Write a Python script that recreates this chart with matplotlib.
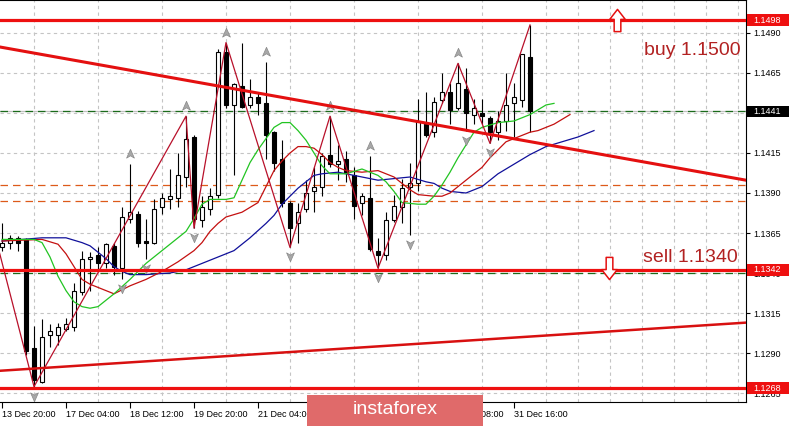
import matplotlib
matplotlib.use("Agg")
import matplotlib.pyplot as plt
import matplotlib.transforms as mtransforms
from matplotlib.path import Path
from matplotlib.patches import Rectangle
import numpy as np

# EURUSD H4 candles
opens = [1.1356, 1.1359, 1.1362, 1.1361, 1.1293, 1.1272, 1.1301, 1.1301, 1.1305, 1.1306,
         1.1328, 1.1349, 1.1351, 1.1346, 1.1357, 1.1343, 1.1374, 1.1377, 1.1360, 1.1359,
         1.1381, 1.1386, 1.1387, 1.1400, 1.1425, 1.1373, 1.1380, 1.1389, 1.1478, 1.1445,
         1.1457, 1.1445, 1.1450, 1.1446, 1.1428, 1.1411, 1.1384, 1.1371, 1.1380, 1.1391,
         1.1394, 1.1414, 1.1408, 1.1411, 1.1401, 1.1384, 1.1387, 1.1354, 1.1351, 1.1373,
         1.1381, 1.1394, 1.1396, 1.1434, 1.1428, 1.1448, 1.1453, 1.1443, 1.1455, 1.1439,
         1.1440, 1.1437, 1.1428, 1.1435, 1.1446, 1.1448, 1.1475]
highs = [1.1371, 1.1364, 1.1363, 1.1362, 1.1307, 1.1311, 1.1308, 1.1309, 1.1312, 1.1334,
         1.1354, 1.1353, 1.1356, 1.1359, 1.1359, 1.1381, 1.1408, 1.1379, 1.1374, 1.1386,
         1.1390, 1.1405, 1.1415, 1.1438, 1.1426, 1.1388, 1.1393, 1.1480, 1.1484, 1.1459,
         1.1484, 1.1461, 1.1453, 1.1472, 1.1429, 1.1423, 1.1385, 1.1384, 1.1398, 1.1406,
         1.1415, 1.1438, 1.1420, 1.1416, 1.1406, 1.1390, 1.1413, 1.1362, 1.1378, 1.1389,
         1.1399, 1.1409, 1.1449, 1.1453, 1.1450, 1.1465, 1.1459, 1.1471, 1.1468, 1.1449,
         1.1449, 1.1438, 1.1441, 1.1465, 1.1459, 1.1477, 1.1495]
lows = [1.1354, 1.1355, 1.1354, 1.1289, 1.1269, 1.1271, 1.1294, 1.1295, 1.1304, 1.1304,
        1.1326, 1.1329, 1.1342, 1.1343, 1.1339, 1.1336, 1.1371, 1.1356, 1.1349, 1.1358,
        1.1377, 1.1380, 1.1381, 1.1394, 1.1368, 1.1369, 1.1376, 1.1387, 1.1443, 1.1401,
        1.1443, 1.1443, 1.1439, 1.1411, 1.1404, 1.1381, 1.1356, 1.1359, 1.1378, 1.1378,
        1.1388, 1.1406, 1.1398, 1.1397, 1.1374, 1.1376, 1.1354, 1.1343, 1.1348, 1.1372,
        1.1371, 1.1364, 1.1391, 1.1425, 1.1425, 1.1446, 1.1433, 1.1442, 1.1429, 1.1433,
        1.1433, 1.1421, 1.1423, 1.1429, 1.1425, 1.1444, 1.1428]
closes = [1.1359, 1.1362, 1.1359, 1.1291, 1.1273, 1.1300, 1.1304, 1.1306, 1.1308, 1.1329,
          1.1349, 1.1350, 1.1346, 1.1358, 1.1344, 1.1375, 1.1378, 1.1359, 1.1359, 1.1380,
          1.1387, 1.1388, 1.1401, 1.1424, 1.1374, 1.1381, 1.1388, 1.1478, 1.1445, 1.1458,
          1.1444, 1.1450, 1.1446, 1.1426, 1.1409, 1.1384, 1.1368, 1.1378, 1.1390, 1.1394,
          1.1413, 1.1408, 1.1410, 1.1403, 1.1382, 1.1388, 1.1355, 1.1351, 1.1373, 1.1382,
          1.1393, 1.1396, 1.1435, 1.1426, 1.1447, 1.1453, 1.1442, 1.1459, 1.1440, 1.1443,
          1.1438, 1.1428, 1.1435, 1.1445, 1.1450, 1.1477, 1.1441]

# labels under the watermark are not visible in the screenshot
time_labels = ["13 Dec 20:00", "17 Dec 04:00", "18 Dec 12:00", "19 Dec 20:00", "21 Dec 04:00",
               "", "", "28 Dec 08:00", "31 Dec 16:00"]
time_label_idx = [0, 8, 16, 24, 32, 40, 48, 56, 64]

# alligator lines (shifted forward past the last bar)
lips_idx = [0, 4, 5, 6, 7, 8, 9, 10, 11, 12, 14, 16, 18, 20, 22, 23, 24, 25, 26, 28,
            29, 30, 31, 32, 33, 34, 35, 36, 37, 38, 39, 40, 41, 43, 45, 47, 48, 49, 50, 52,
            53, 54, 55, 56, 57, 58, 59, 60, 62, 64, 65, 66, 67, 68, 69]
lips = [1.1361, 1.1361, 1.1359, 1.1350, 1.1338, 1.1329, 1.1322, 1.1319, 1.1318, 1.1319,
        1.1327, 1.1336, 1.1346, 1.1354, 1.1362, 1.1366, 1.1374, 1.1383, 1.1386, 1.1386,
        1.1387, 1.1398, 1.1409, 1.1417, 1.1424, 1.1431, 1.1434, 1.1434, 1.1429, 1.1423,
        1.1415, 1.1407, 1.1402, 1.1402, 1.1405, 1.1401, 1.1397, 1.1391, 1.1384, 1.1383,
        1.1383, 1.1388, 1.1395, 1.1403, 1.1412, 1.1420, 1.1428, 1.1431, 1.1434, 1.1435,
        1.1437, 1.1439, 1.1442, 1.1445, 1.1446]
teeth_idx = [0, 5, 7, 8, 9, 10, 11, 12, 14, 16, 18, 20, 22, 24, 25, 26, 27, 28, 30, 31,
             32, 33, 34, 35, 36, 37, 38, 39, 40, 41, 42, 43, 45, 47, 49, 50, 51, 52, 54, 55,
             56, 57, 58, 59, 60, 61, 62, 63, 64, 65, 66, 67, 68, 69, 70, 71]
teeth = [1.1360, 1.1361, 1.1358, 1.1352, 1.1344, 1.1336, 1.1333, 1.1331, 1.1327, 1.1332,
         1.1336, 1.1341, 1.1347, 1.1354, 1.1359, 1.1366, 1.1371, 1.1375, 1.1378, 1.1381,
         1.1384, 1.1394, 1.1404, 1.1410, 1.1415, 1.1419, 1.1419, 1.1418, 1.1414, 1.1409,
         1.1406, 1.1404, 1.1403, 1.1404, 1.1400, 1.1396, 1.1392, 1.1389, 1.1388, 1.1388,
         1.1390, 1.1394, 1.1398, 1.1402, 1.1406, 1.1412, 1.1417, 1.1422, 1.1424, 1.1426,
         1.1428, 1.1429, 1.1431, 1.1433, 1.1436, 1.1439]
jaw_idx = [0, 5, 8, 10, 11, 12, 13, 14, 15, 16, 18, 21, 23, 25, 27, 29, 31, 33, 34, 35,
           36, 37, 38, 39, 40, 42, 43, 45, 47, 49, 51, 53, 54, 55, 56, 58, 59, 60, 61, 62,
           64, 66, 68, 70, 72, 74]
jaw = [1.1360, 1.1362, 1.1362, 1.1359, 1.1357, 1.1353, 1.1349, 1.1344, 1.1341, 1.1339,
       1.1339, 1.1340, 1.1342, 1.1346, 1.1350, 1.1354, 1.1362, 1.1371, 1.1376, 1.1383,
       1.1388, 1.1393, 1.1397, 1.1401, 1.1402, 1.1403, 1.1402, 1.1400, 1.1398, 1.1399,
       1.1400, 1.1397, 1.1396, 1.1393, 1.1391, 1.1390, 1.1392, 1.1394, 1.1398, 1.1402,
       1.1408, 1.1414, 1.1419, 1.1422, 1.1425, 1.1429]

zigzag_idx = [-1, 4, 23, 24, 28, 36, 41, 47, 57, 61, 66]
zigzag = [1.1366, 1.1269, 1.1438, 1.1368, 1.1484, 1.1356, 1.1438, 1.1343, 1.1471, 1.1421, 1.1495]

fractal_up_idx = [16, 23, 28, 33, 41, 46, 57]
fractal_down_idx = [4, 15, 18, 24, 36, 47, 51, 58, 61]

red_levels = [1.1498, 1.1342, 1.1268]
green_levels = [1.1441, 1.1340]
orange_levels = [1.1395, 1.1385]
trend_down = ([0, 93], [1.1481, 1.1398])
trend_up = ([0, 93], [1.1279, 1.1309])
last_price = 1.1441

plt.rcParams['font.family'] = ['Liberation Sans', 'DejaVu Sans']

fig = plt.figure(figsize=(7.89, 4.26), dpi=100)
ax = fig.add_axes([0, 24 / 426, 746 / 789, 402 / 426])
ax.set_xlim(-0.25, 93)
ax.set_ylim(1.12594, 1.15106)

# grid and scales
yt = np.round(np.arange(1.1265, 1.1491, 0.0025), 4)
ax.set_yticks(yt)
# the 1.1440 label sits fully behind the last-price tag
ax.set_yticklabels(["" if abs(v - last_price) < 0.0002 else f"{v:.4f}" for v in yt])
ax.set_xticks(time_label_idx)
ax.set_xticklabels(time_labels)
ax.set_xticks(np.arange(0, 93, 4), minor=True)
ax.grid(True, which='minor', axis='x', color='#c4c4c4', ls=(0, (3, 3)), lw=0.8)
ax.grid(True, which='major', axis='y', color='#c4c4c4', ls=(0, (3, 3)), lw=0.8)
ax.set_axisbelow(True)
ax.yaxis.tick_right()
ax.tick_params(axis='y', direction='out', length=3, pad=2, labelsize=6.5, width=0.8)
ax.tick_params(axis='x', which='major', direction='out', length=4, pad=2, labelsize=6.5, width=0.8)
ax.tick_params(axis='x', which='minor', length=0)
for lbl in ax.get_xticklabels():
    lbl.set_horizontalalignment('left')
ax.spines['left'].set_visible(False)
for s in ['top', 'right', 'bottom']:
    ax.spines[s].set_linewidth(0.8)

# levels
for v in orange_levels:
    ax.axhline(v, color='#dd5a1a', ls=(0, (6, 4)), lw=0.9, zorder=1)
ax.axhline(green_levels[0], color='#c0c0c0', lw=0.9, zorder=1)
for v in green_levels:
    ax.axhline(v, color='#1b6b1b', ls=(0, (6, 4)), lw=0.9, zorder=1.1)

# candles
o, h, l, c = map(np.array, (opens, highs, lows, closes))
idx = np.arange(len(o))
ax.vlines(idx, l, h, color='black', lw=0.8, zorder=3)
bull = c >= o
bottom = np.minimum(o, c)
height = np.maximum(np.abs(c - o), 0.00004)
ax.bar(idx[bull], height[bull], bottom=bottom[bull], width=0.62, color='white',
       edgecolor='black', lw=0.8, zorder=4)
ax.bar(idx[~bull], height[~bull], bottom=bottom[~bull], width=0.62, color='black',
       edgecolor='black', lw=0.8, zorder=4)

# alligator and zigzag
ax.plot(jaw_idx, jaw, color='#10109a', lw=0.9, zorder=5)
ax.plot(teeth_idx, teeth, color='#c41010', lw=0.9, zorder=5)
ax.plot(lips_idx, lips, color='#22c422', lw=0.9, zorder=5)
ax.plot(zigzag_idx, zigzag, color='#b8102a', lw=0.9, zorder=5)

# fractal arrows
up_path = Path([(0, 1), (0.75, -0.7), (0, -0.25), (-0.75, -0.7), (0, 1)],
               [Path.MOVETO, Path.LINETO, Path.LINETO, Path.LINETO, Path.CLOSEPOLY])
down_path = Path([(0, -1), (0.75, 0.7), (0, 0.25), (-0.75, 0.7), (0, -1)],
                 [Path.MOVETO, Path.LINETO, Path.LINETO, Path.LINETO, Path.CLOSEPOLY])
t_up = mtransforms.offset_copy(ax.transData, fig=fig, x=0, y=10, units='dots')
t_dn = mtransforms.offset_copy(ax.transData, fig=fig, x=0, y=-9, units='dots')
ax.plot(fractal_up_idx, h[fractal_up_idx], ls='none', marker=up_path, ms=7.5,
        mfc='#a8a8a8', mec='#888888', mew=0.5, transform=t_up, zorder=6)
ax.plot(fractal_down_idx, l[fractal_down_idx], ls='none', marker=down_path, ms=7.5,
        mfc='#a8a8a8', mec='#888888', mew=0.5, transform=t_dn, zorder=6)

# trend lines and red levels
ax.axline((trend_down[0][0], trend_down[1][0]), (trend_down[0][1], trend_down[1][1]),
          color='#e41010', lw=2.2, zorder=7)
ax.axline((trend_up[0][0], trend_up[1][0]), (trend_up[0][1], trend_up[1][1]),
          color='#d81010', lw=1.8, zorder=7)
for v in red_levels:
    ax.axhline(v, color='#ee1010', lw=2.3, zorder=7)

# buy / sell marks
block_up = Path([(0, 1), (0.7, 0.1), (0.3, 0.1), (0.3, -1), (-0.3, -1), (-0.3, 0.1), (-0.7, 0.1), (0, 1)],
                [Path.MOVETO] + [Path.LINETO] * 6 + [Path.CLOSEPOLY])
block_down = Path([(0, -1), (0.7, -0.1), (0.3, -0.1), (0.3, 1), (-0.3, 1), (-0.3, -0.1), (-0.7, -0.1), (0, -1)],
                  [Path.MOVETO] + [Path.LINETO] * 6 + [Path.CLOSEPOLY])
ax.plot([76.9], [1.1498], marker=block_up, ms=16, mfc='white', mec='#e41010', mew=1.1, zorder=8)
ax.plot([75.9], [1.1343], marker=block_down, ms=16, mfc='white', mec='#e41010', mew=1.1, zorder=8)
trans = mtransforms.blended_transform_factory(ax.transAxes, ax.transData)
ax.text(0.993, 1.14762, "buy 1.1500", transform=trans,
        ha='right', va='baseline', fontsize=14, color='#b22222', zorder=8)
ax.text(0.989, 1.13469, "sell 1.1340", transform=trans,
        ha='right', va='baseline', fontsize=14, color='#b22222', zorder=8)

# price tags on the right scale
tags = [(red_levels[0], '#ee1010'), (last_price, 'black'), (red_levels[1], '#ee1010'), (red_levels[2], '#ee1010')]
for v, fc in tags:
    ax.add_patch(Rectangle((1 + 1 / 746, v - 0.00036), 43 / 746, 0.00072, transform=trans,
                           fc=fc, ec='none', clip_on=False, zorder=9))
    ax.text(1 + 7 / 746, v, f"{v:.4f}", transform=trans, ha='left', va='center',
            fontsize=6.5, color='white', clip_on=False, zorder=10)

# watermark
fig.add_artist(Rectangle((307 / 789, 0), 176 / 789, 31 / 426, transform=fig.transFigure,
                         fc='#e06a6a', ec='none', zorder=20))
fig.text(395 / 789, 16 / 426, "instaforex", ha='center', va='center', fontsize=14,
         color='white', zorder=21)

fig.savefig("out.png", dpi=100)
